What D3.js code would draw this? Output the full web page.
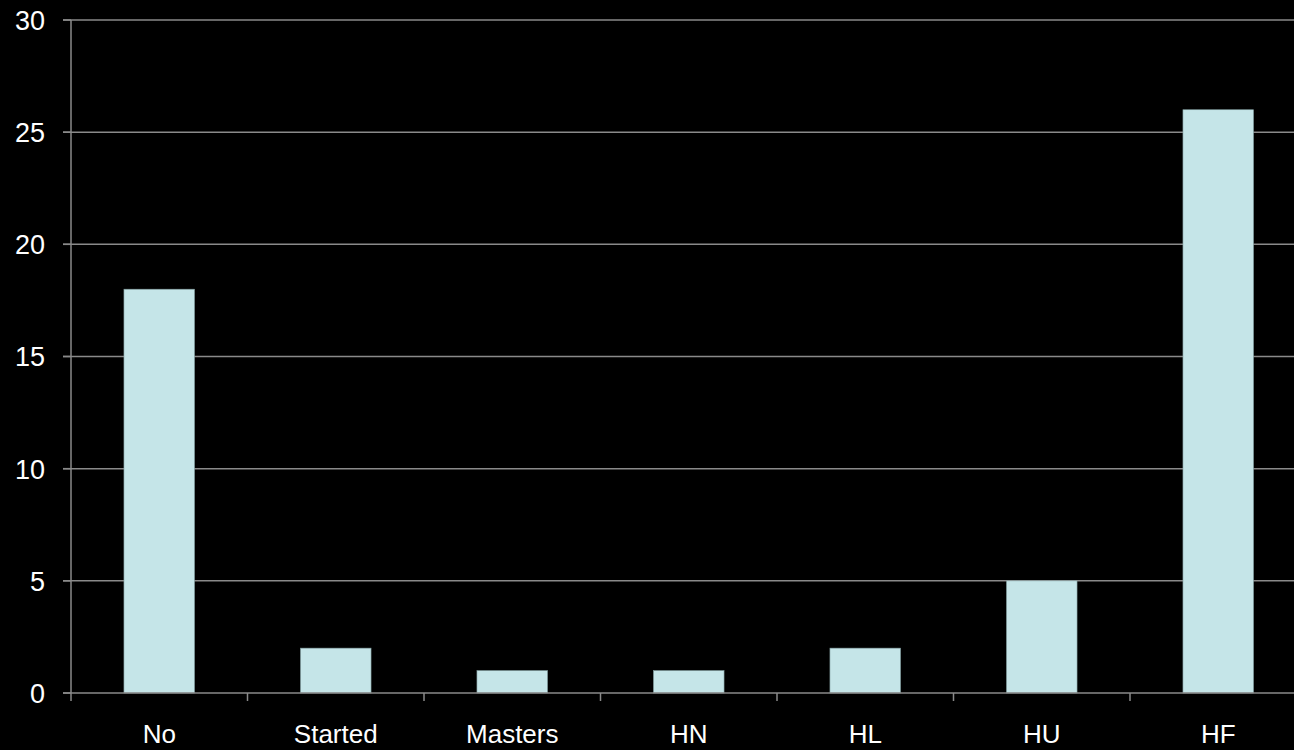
<!DOCTYPE html>
<html>
<head>
<meta charset="utf-8">
<script src="https://cdn.jsdelivr.net/npm/d3@7"></script>
<style>
  html, body { margin:0; padding:0; background:#000; overflow:hidden; }
  svg { display:block; }
  text { font-family: "Liberation Sans", Arial, sans-serif; fill:#fff; }
</style>
</head>
<body>
<svg width="1294" height="750"></svg>
<script>
const categories = ["No", "Started", "Masters", "HN", "HL", "HU", "HF"];
const values = [18, 2, 1, 1, 2, 5, 26];
const yTicks = [0, 5, 10, 15, 20, 25, 30];

const svg = d3.select("svg");
const plotLeft = 71, plotRight = 1306.5, plotTop = 20, plotBottom = 693;

const x = d3.scaleBand()
  .domain(categories)
  .range([plotLeft, plotRight])
  .paddingInner(0.6)
  .paddingOuter(0.3);

const y = d3.scaleLinear().domain([0, 30]).range([plotBottom, plotTop]);

// gridlines
svg.append("g")
  .selectAll("line")
  .data(yTicks.filter(d => d > 0))
  .enter().append("line")
  .attr("x1", plotLeft - 8).attr("x2", plotRight)
  .attr("y1", d => y(d)).attr("y2", d => y(d))
  .attr("stroke", "#8a8a8a").attr("stroke-width", 1.5);

// bars
svg.append("g")
  .selectAll("rect")
  .data(values)
  .enter().append("rect")
  .attr("x", (d, i) => x(categories[i]))
  .attr("y", d => y(d))
  .attr("width", x.bandwidth())
  .attr("height", d => plotBottom - y(d))
  .attr("fill", "#c5e5e8")
  .attr("stroke", "#7f9a9c")
  .attr("stroke-width", 0.6);

// y axis
const yAxis = svg.append("g").attr("transform", `translate(${plotLeft},0)`);
yAxis.append("line")
  .attr("x1", 0).attr("x2", 0).attr("y1", plotTop).attr("y2", plotBottom)
  .attr("stroke", "#8a8a8a").attr("stroke-width", 1.5);
yAxis.selectAll("line.tick")
  .data(yTicks)
  .enter().append("line").attr("class", "tick")
  .attr("x1", -8).attr("x2", 0)
  .attr("y1", d => y(d)).attr("y2", d => y(d))
  .attr("stroke", "#8a8a8a").attr("stroke-width", 1.5);
yAxis.selectAll("text")
  .data(yTicks)
  .enter().append("text")
  .attr("x", -26)
  .attr("y", d => y(d))
  .attr("dy", "0.37em")
  .attr("text-anchor", "end")
  .style("font-size", "27px")
  .text(d => d);

// x axis
const xAxis = svg.append("g");
xAxis.append("line")
  .attr("x1", plotLeft - 8).attr("x2", plotRight)
  .attr("y1", plotBottom).attr("y2", plotBottom)
  .attr("stroke", "#8a8a8a").attr("stroke-width", 1.5);
const step = x.step();
const boundaries = d3.range(categories.length + 1).map(i => plotLeft + i * step);
xAxis.selectAll("line.tick")
  .data(boundaries)
  .enter().append("line").attr("class", "tick")
  .attr("x1", d => d).attr("x2", d => d)
  .attr("y1", plotBottom).attr("y2", plotBottom + 8)
  .attr("stroke", "#8a8a8a").attr("stroke-width", 1.5);
xAxis.selectAll("text")
  .data(categories)
  .enter().append("text")
  .attr("x", d => x(d) + x.bandwidth() / 2)
  .attr("y", 743)
  .attr("text-anchor", "middle")
  .style("font-size", "26px")
  .text(d => d);
</script>
</body>
</html>
